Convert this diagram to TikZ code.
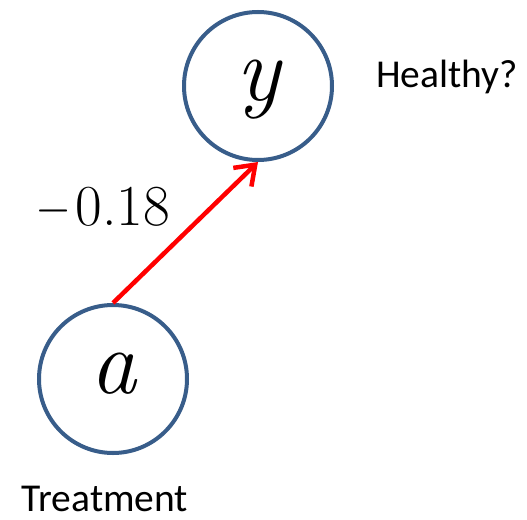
\documentclass[tikz,border=0pt]{standalone}
\usepackage{fontspec}
\usepackage{graphicx}
\setmainfont{Latin Modern Roman}
\newfontfamily\calib{Carlito}
\usetikzlibrary{arrows.meta}
\definecolor{circblue}{RGB}{56,93,138}
\definecolor{arrred}{RGB}{255,0,0}
\tikzset{
  varnode/.style={circle, draw=circblue, line width=4pt, minimum size=148pt, inner sep=0pt,
    font=\rmfamily\itshape\fontsize{92}{96}\selectfont, text height=40pt, text depth=12pt},
  caption/.style={font=\calib\fontsize{39.5}{42}\selectfont, inner sep=0pt, anchor=base},
  edgelab/.style={font=\rmfamily\fontsize{58}{60}\selectfont, inner sep=0pt, anchor=base west},
  effect/.style={draw=arrred, line width=4.5pt, -{Straight Barb[length=18pt, width=26pt]}}
}
\begin{document}
\begin{tikzpicture}[x=1pt, y=1pt]
\useasboundingbox (0,0) rectangle (527,-519);
\node[varnode] (y) at (258,-86) {y};
\node[varnode] (a) at (113,-379) {a};
\node[caption] (hl) at (447,-88) {Healthy?};
\node[caption] (tr) at (105,-511) {Treatment};
\node[edgelab] (w) at (37.5,-225) {\scalebox{0.77}[1]{−}\kern6pt0.18};
\draw[effect] (a.north) -- (y.south);
\end{tikzpicture}
\end{document}
